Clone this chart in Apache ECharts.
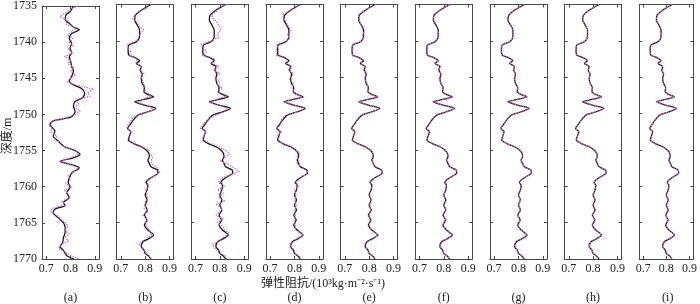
<!DOCTYPE html>
<html>
<head>
<meta charset="utf-8">
<script src="https://cdn.jsdelivr.net/npm/echarts@6.0.0/dist/echarts.min.js"></script>
<style>
html, body { margin: 0; padding: 0; background: #fff; }
#chart { width: 700px; height: 304px; }
</style>
</head>
<body>
<div id="chart"></div>
<script>
// panel captions and axis ticks
var panelNames = ['(a)', '(b)', '(c)', '(d)', '(e)', '(f)', '(g)', '(h)', '(i)'];
var depthTicks = [1735, 1740, 1745, 1750, 1755, 1760, 1765, 1770];
var eiTicks = [0.7, 0.8, 0.9];

var wellDepth = [1735.0, 1735.78, 1736.47, 1737.15, 1737.84, 1738.53, 1739.21, 1739.67, 1740.13, 1740.59,
    1741.28, 1741.96, 1742.28, 1742.74, 1743.1, 1743.56, 1744.02, 1744.57, 1745.17, 1745.86,
    1746.41, 1747.0, 1747.46, 1747.69, 1748.15, 1748.38, 1748.83, 1749.29, 1749.75, 1750.21,
    1750.9, 1751.58, 1752.04, 1752.5, 1752.96, 1753.64, 1754.1, 1754.56, 1755.02, 1755.48,
    1755.93, 1756.39, 1756.85, 1757.31, 1757.77, 1758.22, 1758.68, 1759.14, 1759.51, 1759.83,
    1760.52, 1761.2, 1761.89, 1762.58, 1763.26, 1763.95, 1764.64, 1765.32, 1766.01, 1766.7,
    1767.16, 1767.62, 1768.3, 1768.76, 1769.22, 1769.68, 1770.0];
var wellEI = [0.824, 0.784, 0.760, 0.757, 0.768, 0.777, 0.777, 0.775, 0.764, 0.733,
    0.730, 0.733, 0.757, 0.777, 0.764, 0.784, 0.780, 0.788, 0.784, 0.788,
    0.797, 0.795, 0.817, 0.835, 0.784, 0.757, 0.797, 0.844, 0.811, 0.771,
    0.751, 0.737, 0.728, 0.741, 0.737, 0.731, 0.751, 0.784, 0.804, 0.815,
    0.817, 0.811, 0.817, 0.824, 0.851, 0.853, 0.831, 0.811, 0.804, 0.811,
    0.808, 0.800, 0.808, 0.800, 0.808, 0.797, 0.807, 0.797, 0.811, 0.835,
    0.817, 0.791, 0.784, 0.795, 0.800, 0.817, 0.824];

// black curve of panel a
var wellDepthA = [1735.0, 1735.8, 1736.2, 1736.9, 1737.4, 1737.9, 1738.3, 1738.8, 1739.5, 1740.2,
    1740.8, 1741.5, 1742.0, 1742.7, 1743.4, 1744.0, 1744.7, 1745.4, 1745.9, 1746.4,
    1747.0, 1747.7, 1748.2, 1748.9, 1749.6, 1750.3, 1750.6, 1750.9, 1751.4, 1752.3,
    1753.0, 1753.7, 1754.4, 1754.9, 1755.5, 1756.0, 1756.5, 1756.9, 1757.4, 1758.1,
    1758.8, 1759.4, 1760.1, 1760.8, 1761.5, 1762.2, 1762.6, 1763.1, 1763.6, 1764.3,
    1765.0, 1765.6, 1766.3, 1767.0, 1767.7, 1768.3, 1768.8, 1769.5, 1770.0];
var wellEIA = [0.812, 0.798, 0.782, 0.778, 0.795, 0.812, 0.836, 0.805, 0.795, 0.805,
    0.798, 0.805, 0.795, 0.801, 0.805, 0.812, 0.805, 0.795, 0.812, 0.845,
    0.858, 0.850, 0.819, 0.812, 0.819, 0.805, 0.771, 0.729, 0.716, 0.736,
    0.729, 0.750, 0.771, 0.812, 0.839, 0.812, 0.757, 0.798, 0.836, 0.805,
    0.795, 0.791, 0.798, 0.784, 0.795, 0.771, 0.778, 0.736, 0.729, 0.750,
    0.771, 0.778, 0.778, 0.771, 0.768, 0.757, 0.771, 0.784, 0.815];

// inversion results (magenta), panels a-c on a 0.5 m grid
var invDepth = [];
for (var d = 1735; d <= 1770.001; d += 0.5) invDepth.push(d);
var invA = [0.83, 0.80, 0.775, 0.758, 0.79, 0.78, 0.82, 0.805, 0.79, 0.81,
    0.795, 0.81, 0.79, 0.81, 0.775, 0.80, 0.79, 0.815, 0.80, 0.82,
    0.80, 0.785, 0.83, 0.895, 0.87, 0.88, 0.82, 0.835, 0.815, 0.84,
    0.82, 0.78, 0.725, 0.71, 0.725, 0.72, 0.745, 0.735, 0.765, 0.775,
    0.82, 0.835, 0.80, 0.76, 0.81, 0.83, 0.81, 0.79, 0.80, 0.78,
    0.805, 0.775, 0.79, 0.80, 0.765, 0.775, 0.725, 0.72, 0.745, 0.76,
    0.78, 0.79, 0.775, 0.795, 0.78, 0.79, 0.765, 0.75, 0.775, 0.80,
    0.835];
var invB = [0.825, 0.805, 0.77, 0.755, 0.75, 0.77, 0.775, 0.795, 0.78, 0.775,
    0.765, 0.728, 0.73, 0.74, 0.735, 0.77, 0.762, 0.785, 0.778, 0.795,
    0.785, 0.79, 0.795, 0.80, 0.80, 0.825, 0.795, 0.77, 0.82, 0.835,
    0.785, 0.752, 0.74, 0.73, 0.725, 0.745, 0.732, 0.735, 0.745, 0.785,
    0.815, 0.82, 0.83, 0.825, 0.83, 0.85, 0.86, 0.845, 0.81, 0.80,
    0.815, 0.80, 0.805, 0.81, 0.80, 0.805, 0.795, 0.81, 0.79, 0.81,
    0.80, 0.805, 0.815, 0.83, 0.815, 0.79, 0.775, 0.79, 0.80, 0.815,
    0.825];
var invC = [0.83, 0.79, 0.785, 0.765, 0.775, 0.79, 0.80, 0.805, 0.79, 0.795,
    0.765, 0.722, 0.735, 0.745, 0.73, 0.78, 0.765, 0.795, 0.775, 0.80,
    0.78, 0.80, 0.79, 0.81, 0.79, 0.83, 0.79, 0.76, 0.815, 0.835,
    0.80, 0.765, 0.745, 0.73, 0.72, 0.745, 0.735, 0.728, 0.755, 0.79,
    0.82, 0.84, 0.825, 0.80, 0.835, 0.86, 0.88, 0.835, 0.80, 0.795,
    0.82, 0.79, 0.815, 0.795, 0.82, 0.785, 0.81, 0.80, 0.785, 0.815,
    0.79, 0.81, 0.82, 0.84, 0.815, 0.80, 0.77, 0.78, 0.79, 0.82,
    0.83];
// panels d-f, sampled at the well depths
var invD = [0.82, 0.79, 0.752, 0.762, 0.772, 0.785, 0.772, 0.78, 0.758, 0.728,
    0.736, 0.725, 0.762, 0.772, 0.768, 0.79, 0.776, 0.795, 0.78, 0.795,
    0.79, 0.80, 0.812, 0.838, 0.78, 0.76, 0.80, 0.838, 0.815, 0.765,
    0.745, 0.742, 0.724, 0.746, 0.732, 0.736, 0.748, 0.79, 0.80, 0.822,
    0.812, 0.818, 0.812, 0.83, 0.846, 0.86, 0.826, 0.818, 0.80, 0.816,
    0.802, 0.806, 0.802, 0.808, 0.80, 0.803, 0.80, 0.804, 0.806, 0.838,
    0.812, 0.796, 0.78, 0.80, 0.796, 0.822, 0.82];
var invE = [0.826, 0.786, 0.756, 0.76, 0.766, 0.781, 0.774, 0.778, 0.762, 0.73,
    0.733, 0.73, 0.76, 0.774, 0.767, 0.786, 0.778, 0.791, 0.782, 0.791,
    0.794, 0.798, 0.814, 0.837, 0.782, 0.759, 0.799, 0.841, 0.814, 0.768,
    0.749, 0.739, 0.726, 0.744, 0.735, 0.733, 0.75, 0.787, 0.801, 0.818,
    0.814, 0.814, 0.815, 0.827, 0.848, 0.856, 0.828, 0.814, 0.801, 0.814,
    0.805, 0.803, 0.805, 0.803, 0.806, 0.80, 0.804, 0.80, 0.809, 0.837,
    0.815, 0.793, 0.782, 0.797, 0.798, 0.819, 0.822];
var invF = [0.822, 0.787, 0.758, 0.759, 0.770, 0.775, 0.779, 0.773, 0.766, 0.731,
    0.732, 0.731, 0.759, 0.779, 0.762, 0.787, 0.777, 0.79, 0.781, 0.79,
    0.795, 0.797, 0.815, 0.836, 0.786, 0.756, 0.798, 0.842, 0.81, 0.772,
    0.748, 0.74, 0.727, 0.743, 0.739, 0.729, 0.753, 0.782, 0.806, 0.813,
    0.82, 0.808, 0.82, 0.822, 0.853, 0.85, 0.834, 0.808, 0.807, 0.81,
    0.81, 0.798, 0.81, 0.798, 0.81, 0.795, 0.81, 0.795, 0.813, 0.832,
    0.82, 0.79, 0.786, 0.793, 0.802, 0.815, 0.826];

var blackSets = [[wellDepthA, wellEIA]];
for (var k = 1; k < 9; k++) blackSets.push([wellDepth, wellEI]);
var pinkSets = [[invDepth, invA], [invDepth, invB], [invDepth, invC],
    [wellDepth, invD], [wellDepth, invE], [wellDepth, invF],
    [wellDepth, wellEI], [wellDepth, wellEI], [wellDepth, wellEI]];

function pairs(depths, vals) {
    return vals.map(function (v, i) { return [v, depths[i]]; });
}

var FONT = '"Liberation Serif", "Noto Sans CJK SC", serif';
var frame = '#4a4a4a';
var grids = [], xAxes = [], yAxes = [], series = [], texts = [];

for (var p = 0; p < 9; p++) {
    var left = 42 + 74.66 * p;
    grids.push({left: left, top: 4.5, width: 57, height: 254.5});
    var base = {
        type: 'value', gridIndex: p, min: 0.683, max: 0.917,
        axisLine: {show: true, onZero: false, lineStyle: {color: frame, width: 1}},
        axisTick: {show: true, inside: true, length: 3, customValues: eiTicks, lineStyle: {color: frame}},
        splitLine: {show: false}
    };
    xAxes.push(Object.assign({}, base, {
        position: 'bottom',
        axisLabel: {customValues: eiTicks, formatter: function (v) { return v.toFixed(1); },
            fontFamily: FONT, fontSize: 12, color: '#222', margin: 4}
    }));
    xAxes.push(Object.assign({}, base, {position: 'top', axisLabel: {show: false}}));
    var ybase = {
        type: 'value', gridIndex: p, inverse: true, min: 1735, max: 1770, interval: 5,
        axisLine: {show: true, onZero: false, lineStyle: {color: frame, width: 1}},
        axisTick: {show: true, inside: true, length: 3, lineStyle: {color: frame}},
        splitLine: {show: false}
    };
    yAxes.push(Object.assign({}, ybase, {
        position: 'left',
        axisLabel: {show: p === 0, formatter: function (v) { return String(v); },
            fontFamily: FONT, fontSize: 12, color: '#222', margin: 5}
    }));
    yAxes.push(Object.assign({}, ybase, {position: 'right', axisLabel: {show: false}}));

    series.push({
        type: 'line', xAxisIndex: p * 2, yAxisIndex: p * 2,
        data: pairs(blackSets[p][0], blackSets[p][1]),
        showSymbol: false, smooth: 0.25,
        lineStyle: {color: '#1a1a1a', width: 1.3}
    });
    series.push({
        type: 'line', xAxisIndex: p * 2, yAxisIndex: p * 2,
        data: pairs(pinkSets[p][0], pinkSets[p][1]),
        showSymbol: false, smooth: p < 3 ? false : 0.25,
        lineStyle: {color: '#d35ccd', width: 1.3, type: 'dotted'}
    });

    texts.push({
        type: 'text', x: left + 28.5, y: 298,
        style: {text: panelNames[p], font: '12px ' + FONT, fill: '#222',
            align: 'center', verticalAlign: 'middle', textAlign: 'center', textVerticalAlign: 'middle'}
    });
}

texts.push({
    type: 'text', x: 323, y: 284,
    style: {text: '弹性阻抗/(10³kg·m⁻²·s⁻¹)', font: '12px ' + FONT, fill: '#222',
        align: 'center', verticalAlign: 'middle', textAlign: 'center', textVerticalAlign: 'middle'}
});
texts.push({
    type: 'text', x: 8, y: 136, rotation: Math.PI / 2,
    style: {text: '深度/m', font: '12px ' + FONT, fill: '#222',
        align: 'center', verticalAlign: 'middle', textAlign: 'center', textVerticalAlign: 'middle'}
});

var myChart = echarts.init(document.getElementById('chart'), null, {renderer: 'canvas'});
myChart.setOption({
    animation: false,
    backgroundColor: '#fff',
    grid: grids,
    xAxis: xAxes,
    yAxis: yAxes,
    series: series,
    graphic: texts
});
</script>
</body>
</html>
